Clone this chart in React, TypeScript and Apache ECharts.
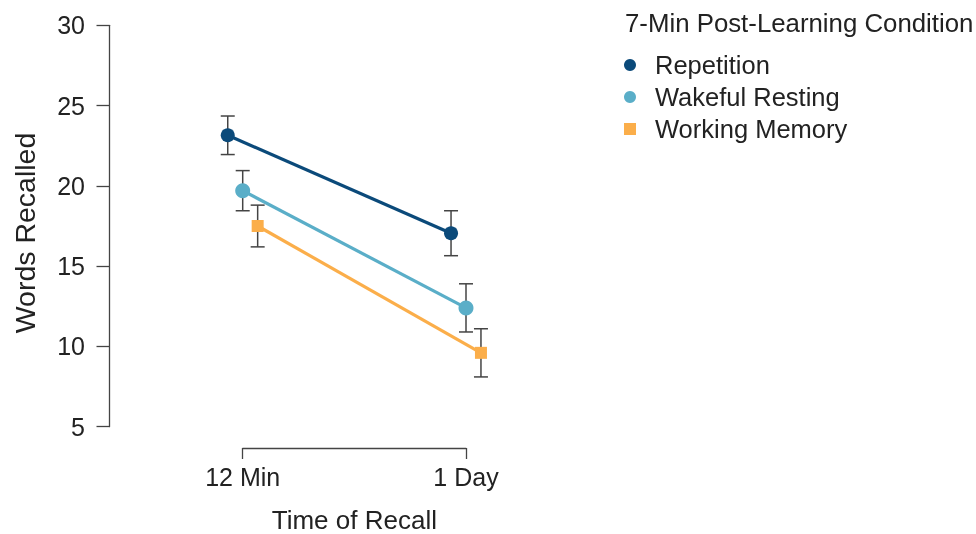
import React, { useEffect, useRef } from "react";
import * as echarts from "echarts";

const categories = ["12 Min", "1 Day"];
const seriesNames = ["Repetition", "Wakeful Resting", "Working Memory"];
const repetition = [23.15, 17.05];
const repetitionErr = [1.2, 1.4];
const wakeful = [19.7, 12.4];
const wakefulErr = [1.25, 1.5];
const workingMemory = [17.5, 9.6];
const workingMemoryErr = [1.3, 1.5];
const yTicks = [5, 10, 15, 20, 25, 30];

const COLORS = ["#0b4a7a", "#5aaec8", "#fbae4a"];
const SYMBOLS = ["circle", "circle", "rect"];
const SYMBOL_SIZES = [14, 15, 12];
const DODGE = [-0.067, 0, 0.067];
const FONT = "'Liberation Sans', Arial, sans-serif";
const TEXT = "#222222";
const AXIS = "#444444";

const PLOT_LEFT = 242.7;
const PLOT_W = 223.3;
const PAD = 0.2;

export default function App() {
  const ref = useRef<HTMLDivElement>(null);
  useEffect(() => {
    if (!ref.current) return;
    const chart = echarts.init(ref.current, undefined, { renderer: "svg" });
    const values = [repetition, wakeful, workingMemory];
    const errs = [repetitionErr, wakefulErr, workingMemoryErr];

    const lineSeries = values.map((vals, s) => ({
      type: "line",
      name: seriesNames[s],
      xAxisIndex: 2,
      yAxisIndex: 2,
      data: vals.map((v, i) => [i + DODGE[s], v]),
      symbol: SYMBOLS[s],
      symbolSize: SYMBOL_SIZES[s],
      showSymbol: true,
      z: 5,
      lineStyle: { color: COLORS[s], width: 3.2 },
      itemStyle: { color: COLORS[s] },
      emphasis: { disabled: true },
    }));

    const errSeries = values.map((vals, s) => ({
      type: "custom",
      name: seriesNames[s] + " err",
      xAxisIndex: 2,
      yAxisIndex: 2,
      z: 3,
      data: vals.map((v, i) => [i + DODGE[s], v - errs[s][i], v + errs[s][i]]),
      renderItem: (params: any, api: any) => {
        const x = api.value(0);
        const lo = api.coord([x, api.value(1)]);
        const hi = api.coord([x, api.value(2)]);
        const hw = 7;
        const st = { stroke: AXIS, lineWidth: 1.5 };
        return {
          type: "group",
          children: [
            { type: "line", shape: { x1: lo[0], y1: lo[1], x2: hi[0], y2: hi[1] }, style: st },
            { type: "line", shape: { x1: lo[0] - hw, y1: lo[1], x2: lo[0] + hw, y2: lo[1] }, style: st },
            { type: "line", shape: { x1: hi[0] - hw, y1: hi[1], x2: hi[0] + hw, y2: hi[1] }, style: st },
          ],
        };
      },
    }));

    const yRange = { min: yTicks[0], max: yTicks[yTicks.length - 1] };
    const gridBase = { top: 25.3, bottom: 107.3, outerBoundsMode: "none", containLabel: false };

    chart.setOption({
      animation: false,
      textStyle: { fontFamily: FONT },
      grid: [
        { ...gridBase, left: 109, width: 400 },
        { ...gridBase, left: PLOT_LEFT, width: PLOT_W },
        { ...gridBase, left: PLOT_LEFT - PAD * PLOT_W, width: PLOT_W * (1 + 2 * PAD) },
      ],
      xAxis: [
        { type: "value", gridIndex: 0, show: false, min: 0, max: 1 },
        {
          type: "value",
          gridIndex: 1,
          min: 0,
          max: 1,
          interval: 1,
          offset: 21.3,
          splitLine: { show: false },
          axisLine: { show: true, lineStyle: { color: AXIS, width: 1.3 } },
          axisTick: { show: true, length: 11, lineStyle: { color: AXIS, width: 1.3 } },
          axisLabel: {
            margin: 16,
            fontSize: 25,
            color: TEXT,
            fontFamily: FONT,
            formatter: (v: number) => categories[Math.round(v)] ?? "",
          },
          name: "Time of Recall",
          nameLocation: "middle",
          nameGap: 59,
          nameTextStyle: { fontSize: 26, lineHeight: 26, color: TEXT, fontFamily: FONT },
        },
        { type: "value", gridIndex: 2, show: false, min: -PAD, max: 1 + PAD },
      ],
      yAxis: [
        {
          type: "value",
          gridIndex: 0,
          ...yRange,
          interval: 5,
          splitLine: { show: false },
          axisLine: { show: true, lineStyle: { color: AXIS, width: 1.3 } },
          axisTick: { show: true, length: 12.5, lineStyle: { color: AXIS, width: 1.3 } },
          axisLabel: { margin: 24, fontSize: 25, color: TEXT, fontFamily: FONT },
          name: "Words Recalled",
          nameLocation: "middle",
          nameGap: 70,
          nameTextStyle: { fontSize: 28.5, color: TEXT, fontFamily: FONT, padding: [0, 14, 0, 0] },
        },
        { type: "value", gridIndex: 1, ...yRange, show: false },
        { type: "value", gridIndex: 2, ...yRange, show: false },
      ],
      legend: {
        orient: "vertical",
        left: 619,
        top: 47,
        itemWidth: 12,
        itemHeight: 12,
        itemGap: 6,
        selectedMode: false,
        data: seriesNames.map((n, s) => ({ name: n, icon: SYMBOLS[s], itemStyle: { color: COLORS[s] } })),
        textStyle: { fontSize: 25.5, lineHeight: 25, color: TEXT, fontFamily: FONT, padding: [0, 0, 0, 14] },
      },
      graphic: [
        {
          type: "text",
          left: 625,
          top: 10,
          style: { text: "7-Min Post-Learning Condition", fontSize: 25.8, fontFamily: FONT, fill: TEXT },
        },
      ],
      series: [...errSeries, ...lineSeries],
    });
    return () => chart.dispose();
  }, []);
  return <div ref={ref} style={{ position: "fixed", left: 0, top: 0, width: 976, height: 534 }} />;
}
